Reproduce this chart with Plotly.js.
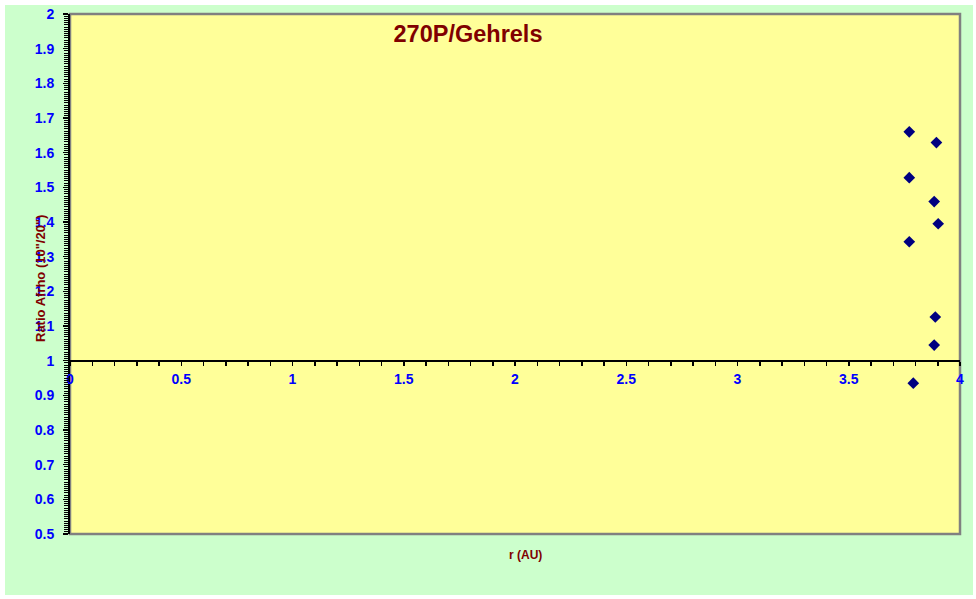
<!DOCTYPE html>
<html>
<head>
<meta charset="utf-8">
<script src="https://cdn.plot.ly/plotly-3.0.1.min.js"></script>
<style>html,body{margin:0;padding:0;background:#fff;}#chart{width:976px;height:599px;}</style>
</head>
<body>
<div id="chart"></div>
<script>
// Data
const rAU   = [3.772, 3.894, 3.772, 3.884, 3.902, 3.772, 3.889, 3.884, 3.790];
const ratio = [1.660, 1.629, 1.528, 1.459, 1.395, 1.343, 1.126, 1.045, 0.935];

const titleText = '270P/Gehrels';
const xTitleText = 'r (AU)';
const yTitleText = 'Ratio Afrho (10"/20")';

const W = 976, H = 599;
const L = 70, R = 16, T = 14, B = 65;
const pw = W - L - R, ph = H - T - B;

const trace = {
  x: rAU, y: ratio, type: 'scatter', mode: 'markers',
  marker: {symbol: 'diamond', size: 9, color: '#000080', line: {width: 0}},
  hoverinfo: 'x+y', showlegend: false
};

const tickFont = {family: 'Liberation Sans, Arial, sans-serif', size: 14, color: '#0000ff', weight: 'bold'};
const darkRed = '#800000';

const layout = {
  width: W, height: H,
  margin: {l: L, r: R, t: T, b: B, pad: 0},
  paper_bgcolor: '#ffffff',
  plot_bgcolor: '#ffff99',
  showlegend: false,
  title: {
    text: titleText, xref: 'container', yref: 'container',
    x: 468 / W, y: 1 - 34 / H, xanchor: 'center', yanchor: 'middle',
    font: {family: 'Liberation Sans, Arial, sans-serif', size: 23.5, color: darkRed, weight: 'bold'}
  },
  xaxis: {
    range: [0, 4], anchor: 'free', position: 1 / 3,
    dtick: 0.5, tick0: 0,
    showline: true, linecolor: '#000000', linewidth: 2,
    ticks: 'outside', ticklen: 4, tickwidth: 1.5, tickcolor: '#000000',
    minor: {dtick: 0.1, ticks: 'outside', ticklen: 4, tickwidth: 1.5, tickcolor: '#000000', showgrid: false},
    showgrid: false, zeroline: false,
    tickfont: tickFont,
    ticklabelstandoff: 2,
    fixedrange: true
  },
  yaxis: {
    range: [0.5, 2], dtick: 0.1, tick0: 0.5,
    showline: true, linecolor: '#000000', linewidth: 2,
    ticks: 'outside', ticklen: 5, tickwidth: 1.5, tickcolor: '#000000',
    minor: {dtick: 0.00625, ticks: 'outside', ticklen: 4, tickwidth: 1, tickcolor: '#000000', showgrid: false},
    showgrid: false, zeroline: false,
    tickfont: tickFont,
    ticklabelstandoff: 6,
    fixedrange: true
  },
  shapes: [
    {type: 'rect', xref: 'paper', yref: 'paper', layer: 'below',
     x0: (5 - L) / pw, x1: (973 - L) / pw, y0: -(595 - (H - B)) / ph, y1: 1 + (T - 5) / ph,
     fillcolor: '#ccffcc', line: {width: 0}},
    {type: 'rect', xref: 'paper', yref: 'paper', layer: 'below',
     x0: 0, x1: 1, y0: 0, y1: 1,
     fillcolor: '#ffff99', line: {color: '#808080', width: 2.5}}
  ],
  annotations: [
    {text: yTitleText, xref: 'paper', yref: 'paper', x: (40 - L) / pw, y: ((H - B) - 279) / ph,
     xanchor: 'center', yanchor: 'middle', textangle: -90, showarrow: false,
     font: {family: 'Liberation Sans, Arial, sans-serif', size: 13, color: darkRed, weight: 'bold'}},
    {text: xTitleText, xref: 'paper', yref: 'paper', x: (525 - L) / pw, y: -((555) - (H - B)) / ph,
     xanchor: 'center', yanchor: 'middle', showarrow: false,
     font: {family: 'Liberation Sans, Arial, sans-serif', size: 12, color: darkRed, weight: 'bold'}}
  ]
};

Plotly.newPlot('chart', [trace], layout, {displayModeBar: false, staticPlot: true});
</script>
</body>
</html>
